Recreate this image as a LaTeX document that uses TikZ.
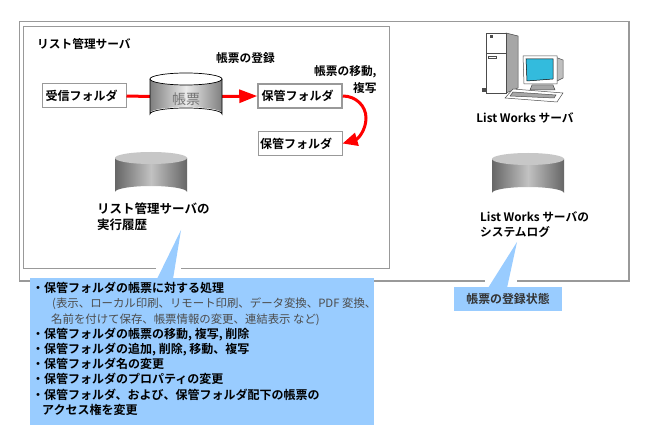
\documentclass[tikz,border=0pt]{standalone}
\usepackage{fontspec}
\setmainfont{Noto Sans CJK JP}[BoldFont={Noto Sans CJK JP Bold}]
\usetikzlibrary{arrows.meta}
\definecolor{edgegray}{HTML}{999999}
\definecolor{callout}{HTML}{99CCFF}
\definecolor{screenblue}{HTML}{33BBDD}
\tikzset{
  frame/.style={draw=edgegray,line width=1.6pt},
  folder/.style={draw=edgegray,line width=1pt,fill=white,minimum width=84pt,minimum height=24pt,inner sep=0pt,font=\bfseries\fontsize{12}{12}\selectfont,text=black},
  lbl/.style={inner sep=0pt,anchor=north west,align=left,font=\bfseries\fontsize{11.7}{15.5}\selectfont,text=black},
  redline/.style={red,line width=3pt},
  redarrow/.style={redline,-{Triangle[length=18pt,width=13pt]}},
  slot/.style={inner sep=0pt,minimum width=72pt,minimum height=46pt},
  bodyA/.style={left color=black!50,right color=black!50,middle color=white!92!black},
  bodyB/.style={left color=black!60,right color=black!60,middle color=black!24},
}
\newcommand{\cylshape}[4]{% x, y top, body style, top colour
  \path[#3,draw=none] (#1,#2+6) -- (#1,#2+40) arc[start angle=180,end angle=360,x radius=36,y radius=6] -- (#1+72,#2+6) -- cycle;
  \fill[#4] (#1+36,#2+6) ellipse[x radius=36,y radius=6];
}
\begin{document}
\begin{tikzpicture}[x=1pt,y=-1pt]
\useasboundingbox (0,0) rectangle (652,443);
\fill[white] (0,0) rectangle (652,443);
% frames
\draw[frame] (19.5,21.5) rectangle (629,281);
\draw[frame] (23.5,26.5) rectangle (389.5,268.5);
% gaps in the frames behind the callout pointers
\fill[white] (156,264) rectangle (181,284);
\fill[white] (485,276) rectangle (517,286);
% callouts
\node[fill=callout,inner sep=0pt,minimum width=344pt,minimum height=147pt] (mainbox) at (202,351.5) {};
\coordinate (mainapex) at (181,230);
\fill[callout] (mainapex) -- (173,279) -- (157,279) -- cycle;
\node[fill=callout,inner sep=0pt,minimum width=108pt,minimum height=24pt,font=\bfseries\fontsize{11.9}{12}\selectfont,text=black!80] (statebox) at (508,299) {帳票の登録状態};
\coordinate (stateapex) at (517,242);
\fill[callout] (stateapex) -- (507,288) -- (488,288) -- cycle;
% folders
\node[folder] (recv) at (84,96) {\hspace{-5pt}受信フォルダ};
\node[folder,line width=1.5pt] (keep) at (300,96) {\hspace{-5pt}保管フォルダ};
\node[folder] (keeptwo) at (300,143.5) {\hspace{-8pt}保管フォルダ};
% cylinders slots
\node[slot] (form) at (186,96.5) {};
\node[slot] (runlog) at (151,175) {};
\node[slot] (syslog) at (528,176) {};
% connectors
\draw[redline] (recv.east) -- (form.west);
\draw[redarrow] (form.east) -- (keep.west);
\coordinate (bend) at (366,118);
\draw[redline,-{Triangle[length=15pt,width=13pt]}] (keep.east) .. controls (356,96) and (366,106) .. (bend) .. controls (366,130) and (358,139) .. (keeptwo.east);
% cylinders
\cylshape{150}{73}{bodyA}{white}
\draw[black,line width=0.7pt] (150,79) arc[start angle=180,end angle=-180,x radius=36,y radius=6];
\draw[black,line width=0.7pt] (150,79) -- (150,114) arc[start angle=180,end angle=360,x radius=36,y radius=6] -- (222,79);
\node[inner sep=0pt,font=\fontsize{14}{14}\selectfont,text=black!55] at (186,99) {帳票};
\cylshape{115}{152}{bodyB}{black!22}
\cylshape{492}{153}{bodyB}{black!22}
% labels
\node[lbl] at (37,38.5) {リスト管理サーバ};
\node[lbl] at (216,52) {帳票の登録};
\node[lbl] at (314,65) {帳票の移動,};
\node[lbl] at (353,82) {複写};
\node[lbl,font=\bfseries\fontsize{12.5}{16}\selectfont] at (97,203) {リスト管理サーバの\\実行履歴};
\node[lbl,anchor=north] at (525,112) {List Works サーバ};
\node[lbl] at (480,211) {List Works サーバの\\システムログ};
% callout text
\node[inner sep=0pt,anchor=north west,align=left,font=\bfseries\fontsize{12}{15.2}\selectfont,text=black] (maintext) at (32,282) {%
・保管フォルダの帳票に対する処理\\
{\mdseries\fontsize{11.4}{15.2}\selectfont\color{black!70}\hspace{20pt}(表示、ローカル印刷、リモート印刷、データ変換、PDF 変換、}\\
{\mdseries\fontsize{11.4}{15.2}\selectfont\color{black!70}\hspace{19pt}名前を付けて保存、帳票情報の変更、連結表示 など)}\\
・保管フォルダの帳票の移動, 複写, 削除\\
・保管フォルダの追加, 削除, 移動、複写\\
・保管フォルダ名の変更\\
・保管フォルダのプロパティの変更\\
・保管フォルダ、および、保管フォルダ配下の帳票の\\
\hspace{10pt}アクセス権を変更};
% computer icon
\begin{scope}[draw=black!70,line width=0.5pt]
  \filldraw[fill=black!35] (506,33) -- (518,36) -- (518,88) -- (506,93) -- cycle;
  \filldraw[fill=white] (486,33) -- (506,33) -- (506,93) -- (486,93) -- cycle;
  \draw (486,53) -- (506,53);
  \filldraw[fill=white] (488,56) rectangle (496,58.5);
  \fill[black!70] (490,35) rectangle (493,38);
  \fill[black!70] (482,88) rectangle (486,92);
  \filldraw[fill=black!25] (555,57) -- (563,60) -- (563,78) -- (555,82) -- cycle;
  \filldraw[fill=white] (523,56) -- (557,56) -- (557,84) -- (524,84) -- cycle;
  \filldraw[fill=screenblue,draw=black] (526,59) -- (553,59) -- (553,79) -- (527,81) -- cycle;
  \filldraw[fill=black!35] (532,85) -- (553,85) -- (555,90) -- (530,90) -- cycle;
  \filldraw[fill=white] (513,89) -- (563,93) -- (557,102) -- (505,98) -- cycle;
  \filldraw[fill=black!35] (513,92) -- (556,95) -- (554,98) -- (510,96) -- cycle;
\end{scope}
\end{tikzpicture}
\end{document}
